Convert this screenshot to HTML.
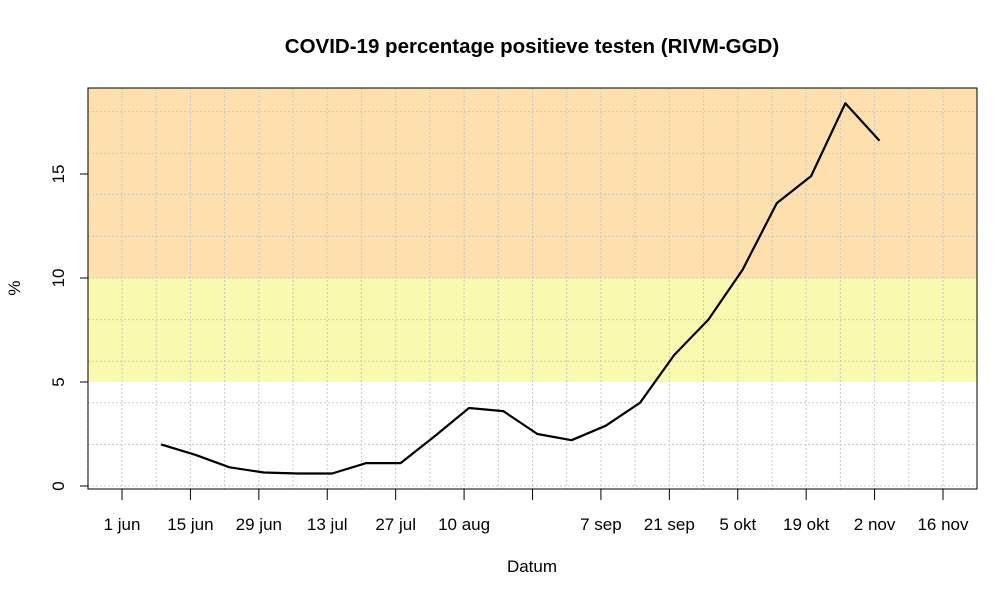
<!DOCTYPE html>
<html><head><meta charset="utf-8"><style>
body{margin:0;background:#fff;font-family:"Liberation Sans",Arial,sans-serif}
svg text{font-family:"Liberation Sans",Arial,sans-serif}
</style></head><body>
<svg id="chart" width="1000" height="600" xmlns="http://www.w3.org/2000/svg">
<text x="532" y="53" font-size="20.5" font-weight="bold" text-anchor="middle">COVID-19 percentage positieve testen (RIVM-GGD)</text>
<text x="532" y="572" font-size="17" text-anchor="middle">Datum</text>
<text x="20" y="288" font-size="17" text-anchor="middle" transform="rotate(-90 20 288)">%</text>
<g id="bands"></g><g id="grid"></g><g id="series"></g><g id="axes"></g>
</svg>
<script>
const days = [8,15,22,29,36,43,50,57,64,71,78,85,92,99,106,113,120,127,134,141,148,155];
const values = [2.0,1.5,0.9,0.65,0.6,0.6,1.1,1.1,2.4,3.75,3.6,2.5,2.2,2.9,4.0,6.3,8.0,10.4,13.6,14.9,18.4,16.6];
const xTickDays = [0,14,28,42,56,70,84,98,112,126,140,154,168];
const xTickLabels = ["1 jun","15 jun","29 jun","13 jul","27 jul","10 aug","","7 sep","21 sep","5 okt","19 okt","2 nov","16 nov"];
const yTicks = [0,5,10,15];
const bandLimits = [5,10];

const NS="http://www.w3.org/2000/svg";
const L=88,R=977,T=88,B=489;
const xs=d=>122+d*(943-122)/168;
const ys=v=>486-v*20.8;
function mk(tag,attrs,parent){const e=document.createElementNS(NS,tag);for(const k in attrs)e.setAttribute(k,attrs[k]);document.getElementById(parent).appendChild(e);return e;}

let r=mk('rect',{x:L,y:T,width:R-L,height:ys(bandLimits[1])-T,fill:'#fde0ae'},'bands');


r=mk('rect',{x:L,y:ys(bandLimits[1]),width:R-L,height:ys(bandLimits[0])-ys(bandLimits[1]),fill:'#f9f9b0'},'bands');



for(let d=-7;d<=175;d+=7){const x=xs(d);if(x<L-1||x>R)continue;
 const g=mk('line',{x1:x,x2:x,y1:T,y2:B,stroke:'#c8c8c8','stroke-dasharray':'2,2'},'grid');
 
 }
for(let v=0;v<=18;v+=2){const y=ys(v);
 const g=mk('line',{x1:L,x2:R,y1:y,y2:y,stroke:'#c8c8c8','stroke-dasharray':'2,2'},'grid');
 
 }

const pts=days.map((d,i)=>xs(d).toFixed(1)+','+ys(values[i]).toFixed(1)).join(' ');
const pl=mk('polyline',{points:pts,fill:'none',stroke:'#000','stroke-width':2.2,'stroke-linejoin':'round'},'series');



const box=mk('rect',{x:L,y:T,width:R-L,height:B-T,fill:'none',stroke:'#000','stroke-width':1},'axes');


xTickDays.forEach((d,i)=>{const x=xs(d);
 const t=mk('line',{x1:x,x2:x,y1:B,y2:B+11,stroke:'#000'},'axes');
 
 
 if(xTickLabels[i]){const tx=mk('text',{x:x,y:530,'font-size':17,'text-anchor':'middle'},'axes');tx.textContent=xTickLabels[i];
 
 }});
yTicks.forEach(v=>{const y=ys(v);
 const t=mk('line',{x1:L-8,x2:L,y1:y,y2:y,stroke:'#000'},'axes');
 
 
 const tx=mk('text',{x:64,y:y,'font-size':17,'text-anchor':'middle',transform:`rotate(-90 64 ${y})`},'axes');tx.textContent=v;
 
 });
</script>
</body></html>
